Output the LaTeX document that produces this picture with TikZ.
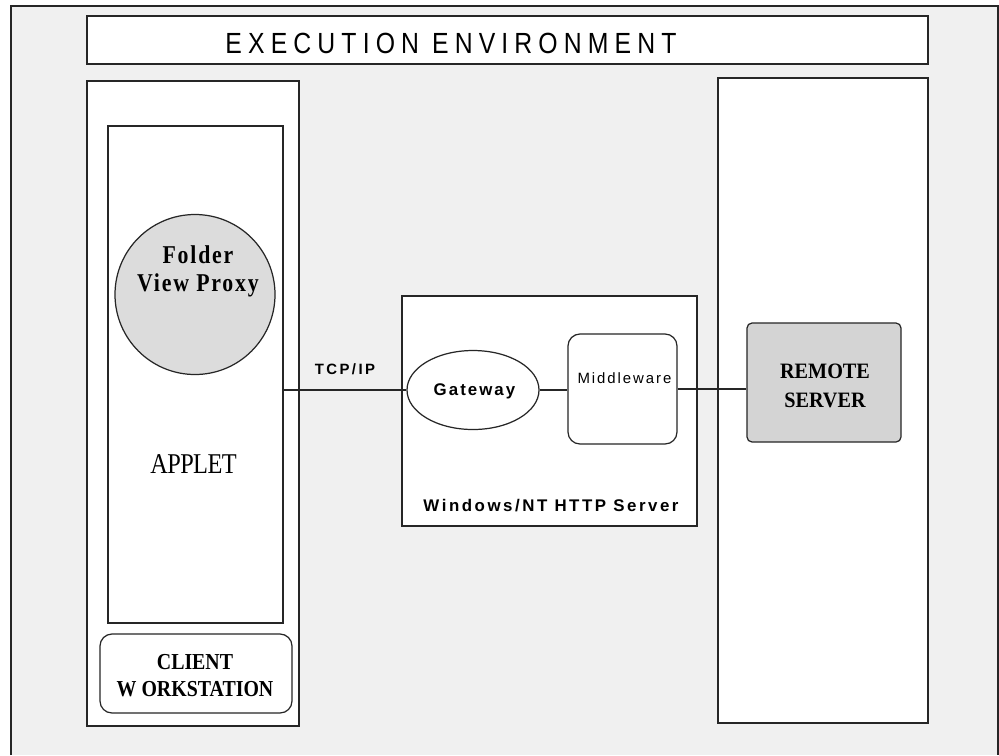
\documentclass[tikz,border=0pt]{standalone}
\usepackage{fontspec}
\setmainfont{Liberation Serif}
\setsansfont{Liberation Sans}
\usetikzlibrary{positioning,shapes}

\definecolor{envgray}{HTML}{F0F0F0}
\definecolor{proxygray}{HTML}{DCDCDC}
\definecolor{servergray}{HTML}{D4D4D4}

\begin{document}
\begin{tikzpicture}[
    x=0.02cm, y=-0.02cm,
    line width=0.7pt,
    sz/.style 2 args={minimum width=#1*0.02cm, minimum height=#2*0.02cm},
    box/.style={rectangle, draw=black!85, fill=white, inner sep=0pt},
    roundbox/.style={box, rounded corners=0.24cm},
    lbl/.style={inner sep=0pt, align=center},
    titlefont/.style={font=\sffamily\fontsize{16.6}{19}\selectfont\addfontfeature{FakeStretch=0.85,LetterSpace=21}},
    serifbold/.style n args={4}{font=\bfseries\fontsize{#1}{#2}\selectfont\addfontfeature{FakeStretch=#3,LetterSpace=#4}},
    sansbold/.style 2 args={font=\sffamily\bfseries\fontsize{#1}{12}\selectfont\addfontfeature{LetterSpace=#2}},
    link/.style={draw=black!85}
]

\useasboundingbox (0,0) rectangle (999,755);

% Environment frame
\fill[envgray] (11,6) rectangle (998,755);
\draw[black!85] (11,755) |- (998,6) -- (998,755);

% Title
\node[box, sz={841}{48}] (title) at (507.5,40) {};
\node[lbl, titlefont] (titletext) at (451,43.5) {EXECUTION ENVIRONMENT};

% Client side
\node[box, sz={212}{645}] (workstation) at (193,403.5) {};
\node[box, sz={175}{497}] (applet) at (195.5,374.5) {};
\node[circle, draw=black!85, fill=proxygray, inner sep=0pt, minimum size=160*0.02cm] (proxy) at (195,294.5) {};
\node[lbl, serifbold={14.6}{15.9}{0.85}{7}] (proxytext) at (198,271) {Folder\\View Proxy};
\node[lbl, font=\fontsize{16.3}{18}\selectfont\addfontfeature{FakeStretch=0.85,LetterSpace=-2}] (applettext) at (193.5,464.5) {APPLET};
\node[roundbox, sz={192}{79}] (client) at (196,673.5) {};
\node[lbl, serifbold={13}{15.3}{0.87}{0}] (clienttext) at (195,676) {CLIENT\\W ORKSTATION};

% Web server
\node[box, sz={295}{230}] (http) at (549.5,411) {};
\node[ellipse, draw=black!85, fill=white, inner sep=0pt, sz={132}{79}] (gateway) at (473,390) {};
\node[lbl, sansbold={9.6}{12}] (gatewaytext) at (474.5,391) {Gateway};
\node[roundbox, sz={109}{110}] (middleware) at (622.5,389) {};
\node[lbl, font=\sffamily\fontsize{8.5}{10}\selectfont\addfontfeature{LetterSpace=13}] (middlewaretext) at (624.5,378) {Middleware};
\node[lbl, sansbold={9.6}{15}] (httptext) at (551,505.5) {Windows/NT HTTP Server};

% Remote side
\node[box, sz={210}{645}] (hostside) at (823,400.5) {};
\node[box, fill=servergray, rounded corners=0.1cm, sz={154}{119}] (remote) at (824,382.5) {};
\node[lbl, serifbold={12.5}{16.4}{0.92}{0}] (remotetext) at (825,386) {REMOTE\\SERVER};

% Connections
\draw[link] (gateway.west -| applet.east) -- (gateway.west);
\draw[link] (gateway.east) -- (gateway.east -| middleware.west);
\draw[link] (middleware.east) -- (middleware.east -| remote.west);
\node[lbl, sansbold={8.5}{16}] (tcpip) at (345,369) {TCP/IP};

\end{tikzpicture}
\end{document}
